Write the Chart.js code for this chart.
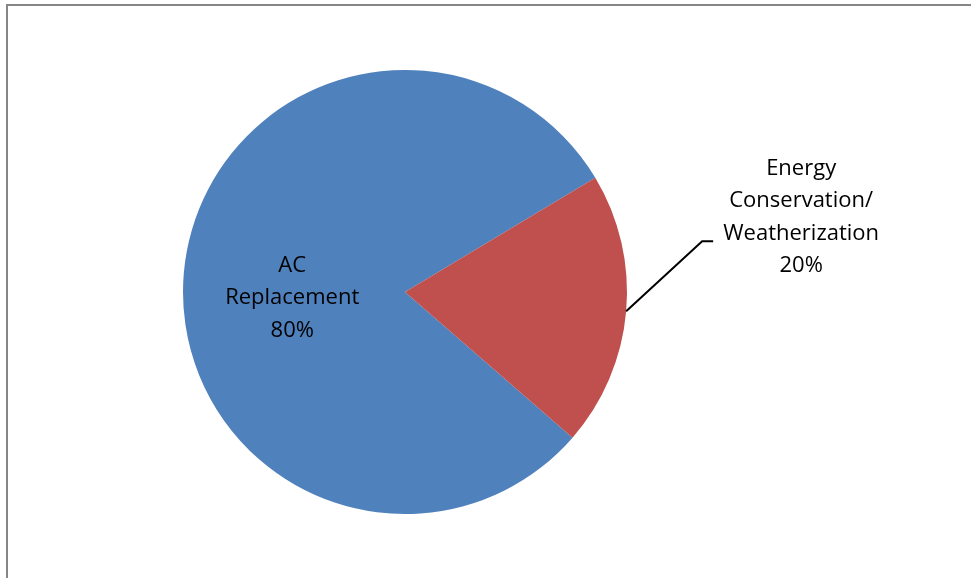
<!DOCTYPE html>
<html>
<head>
<meta charset="utf-8">
<script src="https://cdn.jsdelivr.net/npm/chart.js@4/dist/chart.umd.min.js"></script>
<style>
  html,body{margin:0;padding:0;background:#fff;}
  #wrap{width:971px;height:578px;position:relative;}
</style>
</head>
<body>
<div id="wrap"><canvas id="pie" width="971" height="578"></canvas></div>
<script>
// ---- data
const categories = ['AC Replacement', 'Energy Conservation/ Weatherization'];
const labelLines = [['AC', 'Replacement'], ['Energy', 'Conservation/', 'Weatherization']];
const shares = [80, 20];
const sliceColors = ['#4F81BD', '#C0504D'];

const FONT = '22px "Open Sans", Lato, sans-serif';
const LINE_H = 32.5;

// gray frame (top + left edges only, the rest is cropped)
const framePlugin = {
  id: 'frame',
  beforeDraw(chart){
    const c = chart.ctx;
    c.save();
    c.fillStyle = '#fff';
    c.fillRect(0, 0, chart.width, chart.height);
    c.strokeStyle = '#868686';
    c.lineWidth = 2;
    c.beginPath();
    c.moveTo(7, chart.height);
    c.lineTo(7, 5);
    c.lineTo(chart.width, 5);
    c.stroke();
    c.restore();
  }
};

// data labels: first one inside, second one outside with a leader line
const labelPlugin = {
  id: 'pieLabels',
  afterDatasetsDraw(chart){
    const c = chart.ctx;
    const arcs = chart.getDatasetMeta(0).data;
    c.save();
    c.font = FONT;
    c.fillStyle = '#000';
    c.textAlign = 'center';
    c.textBaseline = 'middle';
    arcs.forEach((a, i) => {
      const p = a.getProps(['x','y','startAngle','endAngle','outerRadius'], true);
      const mid = (p.startAngle + p.endAngle) / 2;
      const lines = labelLines[i].concat([shares[i] + '%']);
      let cx, cy;
      if(i === 0){
        cx = p.x - p.outerRadius * 0.508;
        cy = p.y + 6;
      }else{
        const ex = p.x + Math.cos(mid) * p.outerRadius;
        const ey = p.y + Math.sin(mid) * p.outerRadius;
        const bx = ex + 76, by = ey - 70;
        c.strokeStyle = '#000';
        c.lineWidth = 2;
        c.beginPath();
        c.moveTo(ex, ey);
        c.lineTo(bx, by);
        c.lineTo(bx + 11, by);
        c.stroke();
        cx = ex + 175;
        cy = ey - 94;
      }
      const top = cy - (lines.length - 1) * LINE_H / 2;
      lines.forEach((t, k) => c.fillText(t, cx, top + k * LINE_H));
    });
    c.restore();
  }
};

new Chart(document.getElementById('pie'), {
  type: 'pie',
  data: {
    labels: categories,
    datasets: [{
      data: shares,
      backgroundColor: sliceColors,
      borderWidth: 0
    }]
  },
  options: {
    responsive: false,
    animation: false,
    rotation: 131,
    layout: { padding: { left: 183, right: 344, top: 70, bottom: 64 } },
    plugins: { legend: { display: false }, tooltip: { enabled: false } }
  },
  plugins: [framePlugin, labelPlugin]
});
</script>
</body>
</html>
